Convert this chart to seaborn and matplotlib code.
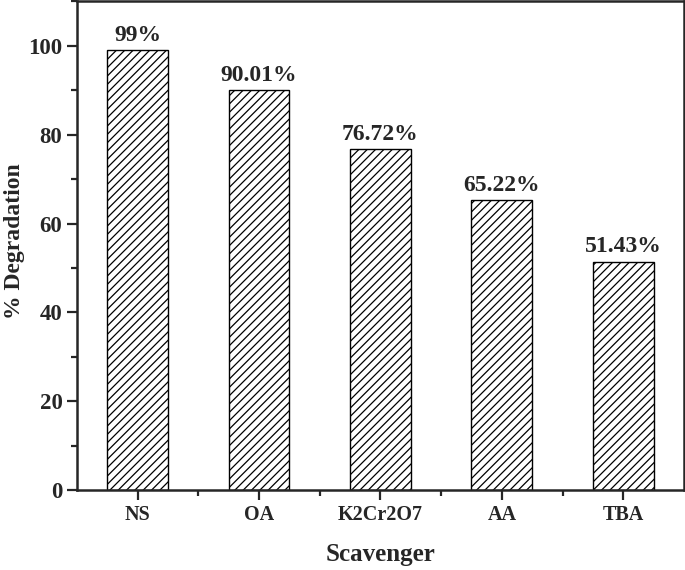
import matplotlib
matplotlib.use('Agg')
import matplotlib.pyplot as plt
import seaborn as sns
import pandas as pd
from matplotlib.ticker import MultipleLocator

# datos
scavengers = ['NS', 'OA', 'K2Cr2O7', 'AA', 'TBA']
degradation = [99, 90.01, 76.72, 65.22, 51.43]
labels = ['99%', '90.01%', '76.72%', '65.22%', '51.43%']

df = pd.DataFrame({'Scavenger': scavengers, 'Degradation': degradation})

sns.set_style('ticks')
plt.rcParams['font.family'] = ['Liberation Serif', 'DejaVu Serif']
plt.rcParams['font.weight'] = 'bold'
plt.rcParams['hatch.linewidth'] = 0.9

fig = plt.figure(figsize=(6.85, 5.7), dpi=100)
ax = fig.add_axes([0.1124, 0.1404, 0.886, 0.857])

sns.barplot(data=df, x='Scavenger', y='Degradation', color='white',
            edgecolor='black', linewidth=1.0, width=0.5, ax=ax)
for p in ax.patches:
    p.set_facecolor('white')
    p.set_edgecolor('black')
    p.set_hatch('////')

for i, v in enumerate(degradation):
    ax.text(i, v + 1.0, labels[i], ha='center', va='bottom', fontsize=17,
            fontweight='bold')

ax.set_xlim(-0.5, 4.5)
ax.set_ylim(0, 110)
ax.yaxis.set_major_locator(MultipleLocator(20))
ax.yaxis.set_minor_locator(MultipleLocator(10))
ax.set_xticks([0.5, 1.5, 2.5, 3.5], minor=True)
ax.tick_params(which='major', direction='out', length=7, width=1.6)
ax.tick_params(axis='x', which='major', labelsize=14.5)
ax.tick_params(axis='y', which='major', labelsize=16.5)
ax.tick_params(which='minor', direction='out', length=4, width=1.6)
for t in ax.get_xticklabels() + ax.get_yticklabels():
    t.set_fontweight('bold')

for s in ax.spines.values():
    s.set_visible(True)
    s.set_linewidth(1.8)

ax.set_xlabel('Scavenger', fontsize=18, fontweight='bold', labelpad=13)
ax.set_ylabel('% Degradation', fontsize=17, fontweight='bold')
ax.yaxis.set_label_coords(-0.085, 0.51)

fig.savefig('out.png', dpi=100)
